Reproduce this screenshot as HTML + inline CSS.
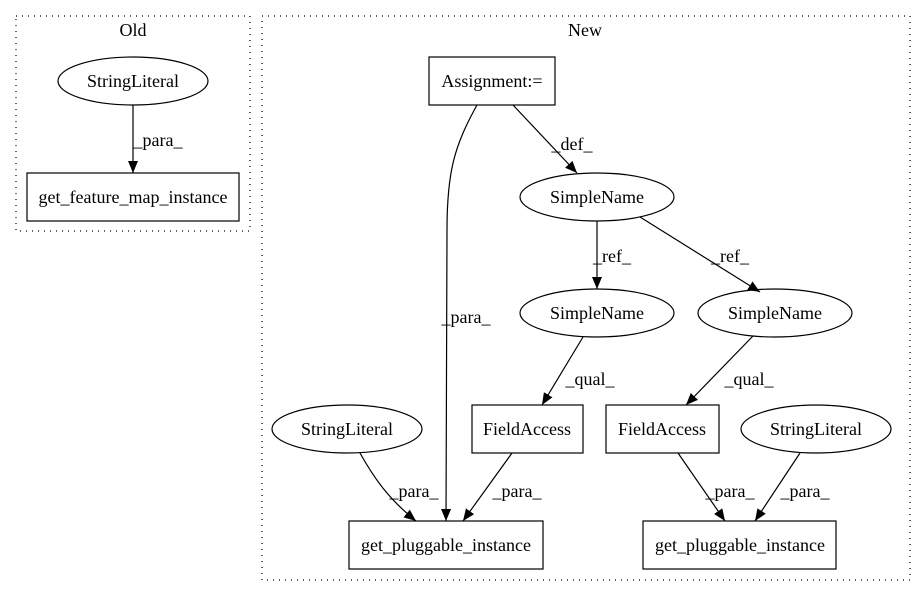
<!DOCTYPE html>
<html><head><style>html,body{margin:0;padding:0;background:#fff}</style></head><body>
<svg width="917" height="596" xmlns="http://www.w3.org/2000/svg" font-family="Liberation Serif, serif" font-size="18">
<defs><marker id="a" markerWidth="12" markerHeight="10" refX="12" refY="5" orient="auto" markerUnits="userSpaceOnUse"><path d="M0,0 L12,5 L0,10 z" fill="#000"/></marker></defs>
<g fill="none" stroke="#000" stroke-width="1.2">
<rect x="16" y="16" width="234" height="215" stroke-dasharray="1,5"/>
<rect x="262" y="16" width="648" height="564" stroke-dasharray="1,5"/>
<ellipse cx="133" cy="81" rx="75" ry="24"/>
<rect x="27" y="173" width="212" height="48"/>
<rect x="429" y="57" width="126" height="48"/>
<ellipse cx="597" cy="197" rx="77" ry="24"/>
<ellipse cx="597" cy="313" rx="77" ry="24"/>
<ellipse cx="775" cy="313" rx="77" ry="24"/>
<rect x="472" y="405" width="111" height="48"/>
<rect x="606" y="405" width="113" height="48"/>
<ellipse cx="347" cy="429" rx="75" ry="24"/>
<ellipse cx="816" cy="429" rx="75" ry="24"/>
<rect x="349" y="521" width="194" height="48"/>
<rect x="643" y="521" width="193" height="48"/>
<path d="M133,105 L133,173" marker-end="url(#a)"/>
<path d="M513,105 L577,173" marker-end="url(#a)"/>
<path d="M477,105 C455,145 447,170 447,230 L446,521" marker-end="url(#a)"/>
<path d="M597,221 L597,289" marker-end="url(#a)"/>
<path d="M640,217 L760,292" marker-end="url(#a)"/>
<path d="M583,337 L542,405" marker-end="url(#a)"/>
<path d="M753,336 L686,405" marker-end="url(#a)"/>
<path d="M360,453 C375,480 390,500 416,521" marker-end="url(#a)"/>
<path d="M512,453 L463,521" marker-end="url(#a)"/>
<path d="M678,453 L725,521" marker-end="url(#a)"/>
<path d="M800,453 L755,521" marker-end="url(#a)"/>
</g>
<g text-anchor="middle" fill="#000">
<text x="133" y="36">Old</text>
<text x="585" y="36">New</text>
<text x="133" y="87">StringLiteral</text>
<text x="133" y="203">get_feature_map_instance</text>
<text x="492" y="87">Assignment:=</text>
<text x="597" y="203">SimpleName</text>
<text x="597" y="319">SimpleName</text>
<text x="775" y="319">SimpleName</text>
<text x="527" y="435">FieldAccess</text>
<text x="662" y="435">FieldAccess</text>
<text x="347" y="435">StringLiteral</text>
<text x="816" y="435">StringLiteral</text>
<text x="446" y="551">get_pluggable_instance</text>
<text x="740" y="551">get_pluggable_instance</text>
<text x="158" y="146">_para_</text>
<text x="572" y="150">_def_</text>
<text x="466" y="323">_para_</text>
<text x="612" y="262">_ref_</text>
<text x="730" y="262">_ref_</text>
<text x="590" y="385">_qual_</text>
<text x="749" y="385">_qual_</text>
<text x="414" y="497">_para_</text>
<text x="517" y="497">_para_</text>
<text x="730" y="497">_para_</text>
<text x="805" y="497">_para_</text>
</g>
</svg>
</body></html>
